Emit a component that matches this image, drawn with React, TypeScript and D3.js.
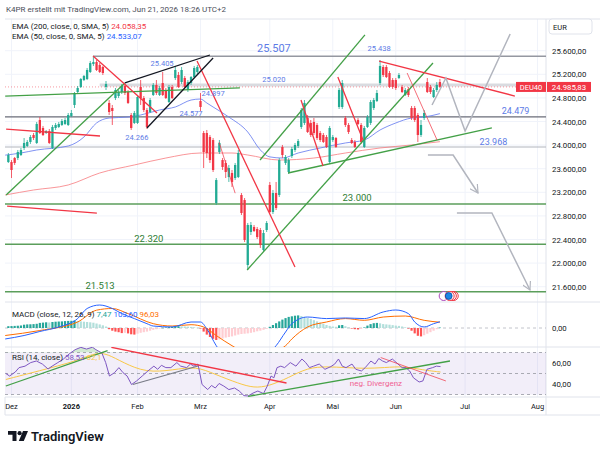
import * as d3 from 'd3';

// ---------- data ----------
const FIRST_BAR = -1; // bar 0 = 1 Dec 2025, one bar per trading day

// [open, high, low, close]
const candles: [number, number, number, number][] = [
  [23713, 23866, 23697, 23832], [23713, 23747, 23442, 23578], [23781, 23798, 23663, 23697], [23781, 23917, 23747, 23883],
  [23832, 23951, 23815, 23917], [23951, 24120, 23917, 24036], [23985, 24086, 23968, 24053], [24053, 24171, 24019, 24137],
  [24171, 24205, 24086, 24120], [24036, 24392, 24019, 24358], [24425, 24476, 24188, 24205], [24290, 24324, 24154, 24171],
  [24205, 24256, 24188, 24239], [24239, 24273, 24019, 24036], [23951, 24341, 23934, 24307], [24290, 24375, 24256, 24341],
  [24307, 24392, 24290, 24358], [24341, 24442, 24324, 24408], [24358, 24459, 24341, 24425], [24341, 24544, 24324, 24510],
  [24493, 24595, 24476, 24544], [24680, 24900, 24629, 24883], [24900, 25002, 24866, 24968], [24985, 25137, 24968, 25120],
  [25103, 25188, 25086, 25171], [25120, 25307, 25103, 25273], [25239, 25425, 25222, 25391], [25374, 25510, 25341, 25408],
  [25408, 25442, 25256, 25273], [25358, 25391, 25222, 25239], [25324, 25341, 25188, 25222], [24985, 25086, 24934, 25035],
  [24714, 24764, 24510, 24561], [24629, 24680, 24341, 24578], [24798, 24968, 24764, 24934], [24832, 24934, 24798, 24900],
  [24900, 25035, 24866, 25002], [25002, 25019, 24849, 24883], [24900, 24934, 24697, 24714], [24510, 24544, 24256, 24290],
  [24375, 24578, 24358, 24544], [24375, 24849, 24358, 24815], [24985, 25103, 24680, 24798], [24798, 24832, 24561, 24595],
  [24595, 24629, 24273, 24307], [24561, 24798, 24544, 24764], [24849, 25052, 24832, 25019], [25019, 25103, 24849, 24883],
  [24849, 25002, 24832, 24968], [25052, 25239, 24832, 24849], [24934, 24968, 24781, 24798], [24730, 25019, 24714, 24985],
  [24985, 25019, 24781, 24798], [25137, 25341, 25103, 25273], [25188, 25239, 24968, 24985], [25069, 25324, 25035, 25273],
  [25137, 25171, 24968, 24985], [24934, 25103, 24900, 25069], [25052, 25171, 25019, 25154], [25154, 25341, 25137, 25307],
  [25239, 25358, 25205, 25324], [24747, 24883, 24578, 24646], [24205, 24239, 23612, 23883], [24205, 24256, 23781, 23866],
  [24137, 24171, 23697, 23747], [24086, 24120, 23544, 23578], [23018, 23442, 22985, 23408], [23883, 24086, 23849, 24036],
  [23747, 23781, 23578, 23629], [23697, 23747, 23442, 23544], [23459, 23663, 23375, 23612], [23527, 23578, 23290, 23375],
  [23442, 23697, 23408, 23663], [23459, 23917, 23442, 23866], [23154, 23188, 22815, 22849], [23069, 23103, 22357, 22392],
  [21968, 22680, 21883, 22646], [22527, 22696, 22476, 22646], [22612, 22646, 22527, 22544], [22578, 22612, 22408, 22442],
  [22561, 22595, 22256, 22307], [22222, 22561, 22188, 22510], [22561, 22713, 22527, 22680], [23324, 23375, 22849, 22866],
  [22866, 23239, 22832, 23188], [23188, 23375, 22900, 22934], [23154, 23781, 23120, 23747], [23968, 24002, 23781, 23832],
  [23697, 23832, 23663, 23798], [23544, 23781, 23510, 23747], [23815, 23968, 23781, 23934], [23917, 24036, 23883, 24002],
  [23985, 24103, 23951, 24069], [24307, 24629, 24273, 24595], [24375, 24764, 24341, 24714], [24459, 24510, 24205, 24222],
  [24375, 24425, 24137, 24171], [24392, 24459, 24171, 24205], [24341, 24375, 24086, 24120], [24205, 24239, 24053, 24086],
  [24171, 24205, 24036, 24053], [24137, 24171, 23951, 23968], [23713, 24324, 23680, 24290], [24086, 24171, 24053, 24137],
  [24120, 24137, 23951, 23968], [24646, 24968, 24612, 24934], [24646, 25103, 24612, 25052], [24459, 24493, 24307, 24341],
  [24341, 24375, 24188, 24222], [24086, 24120, 24019, 24036], [24053, 24086, 23951, 23968], [24425, 24459, 24341, 24358],
  [24341, 24375, 24019, 24053], [23968, 24324, 23951, 24290], [24307, 24510, 24290, 24476], [24375, 24764, 24341, 24730],
  [24629, 24798, 24595, 24764], [24747, 24934, 24730, 24883], [25052, 25442, 25019, 25341], [25324, 25358, 25154, 25188],
  [25324, 25358, 25137, 25154], [25222, 25256, 24968, 24985], [25103, 25137, 24951, 24985], [25103, 25137, 24934, 24968],
  [25137, 25222, 25120, 25188], [24985, 25019, 24883, 24900], [24849, 24968, 24832, 24934], [24951, 24985, 24815, 24849],
  [24629, 24663, 24425, 24459], [24629, 24663, 24392, 24425], [24510, 24544, 24053, 24171], [24171, 24425, 24137, 24341],
  [24459, 24595, 24425, 24544], [25069, 25137, 24883, 24900], [24985, 25019, 24866, 24900], [24815, 24968, 24798, 24934],
  [24934, 25069, 24900, 25019], [25069, 25120, 24968, 24986],
];

// [bar, value]
const ema50: [number, number][] = [
  [-2, 23830], [3, 23866], [8, 23917], [18, 23985], [23, 24137], [27, 24375], [31, 24459], [37, 24476], [41, 24510],
  [47, 24595], [52, 24646], [57, 24764], [60, 24781], [62, 24714], [64, 24646], [69, 24476], [75, 24222], [79, 23917],
  [82, 23800], [86, 23781], [91, 23866], [98, 23951], [106, 24036], [112, 24086], [117, 24256], [122, 24375],
  [127, 24459], [131, 24476], [136, 24533],
];
const ema200: [number, number][] = [
  [-2, 23154], [7, 23239], [18, 23324], [28, 23527], [39, 23663], [49, 23781], [60, 23866], [70, 23866], [75, 23832],
  [85, 23747], [96, 23781], [106, 23866], [117, 23951], [127, 24002], [136, 24058],
];

const macdHist: number[] = [
  30, 32, 35, 38, 42, 55, 60, 62, 65, 70,
  85, 90, 95, 92, 100, 105, 108, 110, 115, 118,
  120, 125, 118, 110, 105, 100, 95, 88, 75, 60,
  45, 25, -20, -45, -60, -70, -85, -80, -90, -105,
  -110, -95, -80, -70, -60, -45, -30, -20, -10, 5,
  10, 15, 20, 25, 30, 28, 25, 22, 18, 12,
  5, -10, -60, -110, -150, -180, -200, -190, -175, -160,
  -150, -140, -125, -110, -100, -95, -90, -80, -70, -55,
  -45, -30, -15, 20, 50, 80, 110, 140, 165, 185,
  195, 205, 210, 200, 185, 170, 150, 130, 110, 90,
  70, 50, 35, 25, 20, 45, 50, 30, 10, -10,
  -20, -25, -15, 10, 40, 65, 80, 85, 78, 65,
  60, 55, 48, 40, 35, 25, 12, -10, -45, -90,
  -130, -140, -120, -95, -70, -45, -20, 7,
];
const macdLine: [number, number][] = [
  [-2, -183], [4, -125], [9, -58], [15, 17], [21, 157], [24, 325], [28, 383], [32, 325], [35, 240], [39, 157],
  [43, 72], [45, 33], [51, 17], [57, 100], [60, 100], [62, -13], [65, -295], [70, -560], [75, -620], [80, -480],
  [84, -295], [87, -67], [89, 72], [94, 183], [100, 157], [106, 167], [112, 157], [118, 267], [122, 300],
  [126, 240], [128, 100], [131, 17], [134, 72], [136, 104],
];
const signalLine: [number, number][] = [
  [-2, -125], [9, -42], [21, 100], [27, 297], [32, 325], [37, 240], [45, 72], [51, 33], [57, 55], [61, 17],
  [65, -125], [70, -295], [75, -420], [81, -420], [87, -295], [89, -183], [94, 17], [100, 100], [106, 157],
  [112, 128], [118, 183], [125, 200], [131, 128], [136, 96],
];

const rsiLine: [number, number][] = [
  [-1.8, 50], [-0.6, 47.6], [1.2, 51.4], [2.4, 55.6], [4.3, 57], [6.1, 60.4], [7.9, 61.9], [9.8, 59], [11.6, 54.3],
  [12.9, 57], [14.7, 60.4], [16.5, 63.8], [18.3, 68.6], [20.2, 72.7], [22, 74.9], [23.8, 73.3], [25.7, 75],
  [26.8, 72.7], [28.7, 69.5], [29.9, 60.4], [31.1, 47.6], [32.7, 50.8], [34.1, 55.6], [35.4, 50.8], [36.7, 47.6],
  [38.1, 39.5], [39.7, 42.9], [41.5, 47.6], [43.3, 52.4], [45.2, 57], [46.4, 54], [47.6, 57.8], [49, 55.6],
  [50.6, 55.6], [52.5, 60.4], [53.7, 57], [55.6, 55.6], [56.8, 59], [57.9, 57], [59.2, 59], [60.5, 39.5],
  [62.3, 34.7], [63.5, 38.6], [64.7, 36.2], [65.9, 40.5], [67.4, 38], [69, 34.7], [70.8, 36.2], [72.3, 33.3],
  [73.8, 28.9], [75.1, 28.6], [76.7, 31.4], [78.2, 33.3], [80, 30.9], [81.2, 38], [82.4, 47.6], [83.3, 45.9],
  [84.3, 55.6], [85.5, 57], [86.7, 55.6], [88.5, 60.4], [90.3, 57], [92.2, 63.8], [93.4, 60.4], [94.6, 55.6],
  [95.9, 57], [97.7, 59], [99.5, 54], [101.4, 56.6], [102.6, 59], [103.8, 63.8], [105, 57], [106.2, 55.6],
  [108.1, 59], [109.3, 54], [111.1, 52.4], [112.3, 55.6], [114.1, 61.9], [115.4, 59], [116.6, 64.3], [117.8, 61.9],
  [119, 60.4], [120.9, 63.8], [122.7, 59], [124, 55.6], [125.2, 55.6], [126.4, 52.4], [127.6, 45.9], [129.4, 41.9],
  [130.6, 42.9], [131.9, 54], [133.7, 55.6], [134.9, 57], [136.2, 56.6],
];
const rsiMa: [number, number][] = [
  [-1.8, 44.3], [8.6, 52.4], [20.8, 61.9], [26.8, 70.1], [30.5, 68.6], [35.4, 60.4], [42.7, 50.8], [51.3, 53.3],
  [58.6, 57], [64.7, 49.1], [72.1, 40.5], [77, 36.2], [81.7, 38], [87.9, 45.9], [94, 55.6], [100.2, 56.6],
  [106.2, 55.6], [112.3, 54.7], [118.4, 55.6], [124.6, 57], [130.6, 53.3], [136.2, 51.4],
];

const monthTicks: [string, number][] = [
  ['Dez', 0], ['2026', 19], ['Feb', 40], ['Mrz', 60], ['Apr', 82], ['Mai', 102], ['Jun', 122], ['Jul', 144], ['Aug', 167],
];
const priceTicks = [25600, 25200, 24800, 24400, 24000, 23600, 23200, 22800, 22400, 22000, 21600];
const rsiTicks = [60, 40];

// horizontal levels: [price, first bar]
const midLevels: [number, number][] = [[25507, 25.9]];
const darkLevels: [number, number][] = [[24479, -3]];
const lightLevels: [number, number][] = [[23968, -3]];
const bandLevels: [number, number][] = [[25020, 28]];
const greenLevels = [23000, 22320, 21513];

// trend lines: [bar1, price1, bar2, price2]
const greenTrends: [number, number, number, number][] = [
  [-2, 24830, 72.5, 24970], [-1.7, 23154, 36, 25053], [74.8, 21883, 133.8, 25392],
  [78.9, 23748, 112.2, 25867], [87.8, 23527, 152.5, 24290],
];
const redTrends: [number, number, number, number][] = [
  [-1.7, 24271, 28.1, 24154], [-1.4, 22966, 27.1, 22847], [25.9, 25510, 46.2, 24544], [58.9, 25425, 90, 21933],
  [91.9, 24764, 98.9, 23646], [103.6, 25154, 111.6, 24086], [116.7, 25425, 159.8, 24832],
];
const thinRedTrends: [number, number, number, number][] = [
  [65.9, 24049, 71, 23185], [125.6, 25222, 135.1, 24086],
];
const blackTrends: [number, number, number, number][] = [
  [36, 25053, 63, 25527], [43, 24290, 64, 25476],
];
const greyZigzag: [number, number][] = [[133.5, 24680], [137.9, 25137], [144, 24237], [158.3, 25883]];
const greyArrows: [number, number][][] = [
  [[132.2, 23832], [140.2, 23832], [148.1, 23188]],
  [[141.4, 22849], [152.5, 22849], [164.6, 21544]],
];

// price notes: [value, bar, baseline price, font size]
const blueNotes: [number, number, number, number][] = [
  [25507, 83.3, 25577, 11], [25438, 116.7, 25600, 7.5], [25405, 47.8, 25341, 7.5], [25020, 83.3, 25069, 7.5],
  [24897, 64, 24832, 7.5], [24577, 57, 24493, 7.5], [24266, 39.8, 24086, 7.5], [24479, 160, 24527, 9],
  [23968, 153, 24002, 9],
];
const greenNotes: [number, number, number][] = [[23000, 109.7, 23053], [22320, 43.6, 22359], [21513, 28.1, 21561]];

// RSI drawings: [bar1, rsi1, bar2, rsi2]
const rsiGreen: [number, number, number, number][] = [[-1.8, 38.1, 30.5, 71.7], [75.1, 28.2, 139.2, 61.9]];
const rsiRed: [number, number, number, number][] = [[31.7, 74.9, 87.3, 41]];
const rsiThinRed: [number, number, number, number][] = [[117.2, 65.2, 137.9, 42.9]];
const rsiGrey: [number, number, number, number][] = [[38.5, 39.5, 59.2, 57.1]];

const LAST_PRICE = 24985.83;

// ---------- layout ----------
const W = 600;
const H = 449;
const L = 5;
const R = 546;
const MAIN = { top: 19, bottom: 302 };
const MACDP = { top: 302, bottom: 347 };
const RSIP = { top: 347, bottom: 397 };
const AXIS_BOTTOM = 415;
const FONT = "Roboto, 'Noto Sans', sans-serif";

const UP = '#22ab94';
const DOWN = '#f23645';
const GREEN = '#43a047';
const RED = '#f23645';
const BLUE_NOTE = '#5d7be6';

const de = d3.formatLocale({ decimal: ',', thousands: '.', grouping: [3], currency: ['', ''] });
const fmt2 = de.format(',.2f');
const fmt0 = de.format(',.0f');

const x = d3.scaleLinear().domain([0, 167]).range([11.5, 11.5 + 167 * 3.15]);
const y = d3.scaleLinear().domain([21600, 25600]).range([286.7, 50.7]);
const yMacd = d3.scaleLinear().domain([-100, 100]).range([334, 322]);
const yRsi = d3.scaleLinear().domain([30, 70]).range([394.5, 352.5]);

const priceLine = d3.line<[number, number]>().x((d) => x(d[0])).y((d) => y(d[1])).curve(d3.curveMonotoneX);
const straightPrice = d3.line<[number, number]>().x((d) => x(d[0])).y((d) => y(d[1]));
const macdPath = d3.line<[number, number]>().x((d) => x(d[0])).y((d) => yMacd(d[1])).curve(d3.curveMonotoneX);
const rsiPath = d3.line<[number, number]>().x((d) => x(d[0])).y((d) => yRsi(d[1]));
const rsiMaPath = d3.line<[number, number]>().x((d) => x(d[0])).y((d) => yRsi(d[1])).curve(d3.curveBasis);
const rsiOb = d3.area<[number, number]>().x((d) => x(d[0])).y0(yRsi(70)).y1((d) => yRsi(d[1]));

function histColor(v: number, prev: number) {
  if (v >= 0) return v >= prev ? '#26a69a' : '#b2dfdb';
  return v <= prev ? '#ff5252' : '#ffcdd2';
}

export default function App() {
  const lastY = y(LAST_PRICE);
  return (
    <svg width={W} height={H} style={{ position: 'fixed', left: 0, top: 0, background: '#fff' }} fontFamily={FONT}>
      <defs>
        <clipPath id="cMain"><rect x={L} y={MAIN.top} width={R - L} height={MAIN.bottom - MAIN.top} /></clipPath>
        <clipPath id="cMacd"><rect x={L} y={MACDP.top} width={R - L} height={MACDP.bottom - MACDP.top} /></clipPath>
        <clipPath id="cRsi"><rect x={L} y={RSIP.top} width={R - L} height={RSIP.bottom - RSIP.top} /></clipPath>
        <clipPath id="cOb"><rect x={L} y={RSIP.top} width={R - L} height={yRsi(70) - RSIP.top} /></clipPath>
        <marker id="arrow" viewBox="0 0 10 10" refX="9" refY="5" markerWidth="9" markerHeight="9" markerUnits="userSpaceOnUse" orient="auto">
          <path d="M0,0 L9,5 L0,10" fill="none" stroke="#b2b5be" strokeWidth={1.3} />
        </marker>
      </defs>

      {/* header */}
      <text x={6} y={12} fontSize={8} fill="#4a4e59">K4PR erstellt mit TradingView.com, Jun 21, 2026 18:26 UTC+2</text>

      {/* grid */}
      <g stroke="#f0f3fa" strokeWidth={1}>
        {monthTicks.map(([m, b]) => (
          <line key={m} x1={x(b)} x2={x(b)} y1={MAIN.top} y2={RSIP.bottom} />
        ))}
        {priceTicks.map((p) => (
          <line key={p} x1={L} x2={R} y1={y(p)} y2={y(p)} />
        ))}
      </g>

      {/* pane frames */}
      <g stroke="#e0e3eb" strokeWidth={1} fill="none">
        <line x1={L} x2={W} y1={MAIN.top} y2={MAIN.top} />
        <line x1={L} x2={W} y1={MAIN.bottom} y2={MAIN.bottom} />
        <line x1={L} x2={W} y1={MACDP.bottom} y2={MACDP.bottom} />
        <line x1={L} x2={W} y1={RSIP.bottom} y2={RSIP.bottom} />
        <line x1={L} x2={W} y1={AXIS_BOTTOM} y2={AXIS_BOTTOM} />
        <line x1={R} x2={R} y1={MAIN.top} y2={AXIS_BOTTOM} />
        <line x1={L} x2={L} y1={RSIP.bottom} y2={AXIS_BOTTOM} />
      </g>

      {/* ---------- main pane ---------- */}
      <g clipPath="url(#cMain)">
        {/* horizontal levels */}
        {bandLevels.map(([p, b]) => (
          <line key={p} x1={x(b)} x2={R} y1={y(p)} y2={y(p)} stroke="#d9dbe0" strokeWidth={3} />
        ))}
        {lightLevels.map(([p, b]) => (
          <line key={p} x1={x(b)} x2={R} y1={y(p)} y2={y(p)} stroke="#b2b5be" strokeWidth={1.2} />
        ))}
        {midLevels.map(([p, b]) => (
          <line key={p} x1={x(b)} x2={R} y1={y(p)} y2={y(p)} stroke="#9598a1" strokeWidth={1.4} />
        ))}
        {darkLevels.map(([p, b]) => (
          <line key={p} x1={x(b)} x2={R} y1={y(p)} y2={y(p)} stroke="#6a6d78" strokeWidth={1.4} />
        ))}
        {greenLevels.map((p) => (
          <line key={p} x1={L} x2={R} y1={y(p)} y2={y(p)} stroke="#5b9e5b" strokeWidth={1.5} />
        ))}
        <line x1={L} x2={R} y1={lastY} y2={lastY} stroke={RED} strokeWidth={1} strokeDasharray="1,2" opacity={0.5} />

        {/* moving averages */}
        <path d={priceLine(ema200) ?? ''} fill="none" stroke="#f77c80" strokeWidth={1} opacity={0.8} />
        <path d={priceLine(ema50) ?? ''} fill="none" stroke="#6a7ff0" strokeWidth={1} opacity={0.85} />

        {/* candles */}
        {candles.map(([o, h, l, c], i) => {
          const b = FIRST_BAR + i;
          const cx = x(b);
          const col = c >= o ? UP : DOWN;
          const top = y(Math.max(o, c));
          const bh = Math.max(1, y(Math.min(o, c)) - top);
          return (
            <g key={i}>
              <line x1={cx} x2={cx} y1={y(h)} y2={y(l)} stroke={col} strokeWidth={0.8} />
              <rect x={cx - 1.15} y={top} width={2.3} height={bh} fill={col} />
            </g>
          );
        })}

        {/* trend lines */}
        {greenTrends.map(([b1, p1, b2, p2], i) => (
          <line key={'g' + i} x1={x(b1)} y1={y(p1)} x2={x(b2)} y2={y(p2)} stroke={GREEN} strokeWidth={1.3} />
        ))}
        {redTrends.map(([b1, p1, b2, p2], i) => (
          <line key={'r' + i} x1={x(b1)} y1={y(p1)} x2={x(b2)} y2={y(p2)} stroke={RED} strokeWidth={1.3} />
        ))}
        {thinRedTrends.map(([b1, p1, b2, p2], i) => (
          <line key={'t' + i} x1={x(b1)} y1={y(p1)} x2={x(b2)} y2={y(p2)} stroke={RED} strokeWidth={0.9} opacity={0.8} />
        ))}
        {blackTrends.map(([b1, p1, b2, p2], i) => (
          <line key={'k' + i} x1={x(b1)} y1={y(p1)} x2={x(b2)} y2={y(p2)} stroke="#131722" strokeWidth={1.3} />
        ))}
        <path d={straightPrice(greyZigzag) ?? ''} fill="none" stroke="#b2b5be" strokeWidth={1.5} />
        {greyArrows.map((pts, i) => (
          <path key={i} d={straightPrice(pts) ?? ''} fill="none" stroke="#b2b5be" strokeWidth={1.5} markerEnd="url(#arrow)" />
        ))}

        {/* notes */}
        {blueNotes.map(([v, b, p, fs]) => (
          <text key={v} x={x(b)} y={y(p)} fontSize={fs} fill={BLUE_NOTE} textAnchor="middle">{fmt0(v)}</text>
        ))}
        {greenNotes.map(([v, b, p]) => (
          <text key={v} x={x(b)} y={y(p)} fontSize={9.5} fill="#2e7d32" textAnchor="middle">{fmt0(v)}</text>
        ))}

        {/* event markers */}
        <circle cx={x(137.2)} cy={MAIN.bottom - 6} r={4.5} fill="#fff" stroke="#ab47bc" strokeWidth={1} />
        <circle cx={x(139.8)} cy={MAIN.bottom - 6} r={4.5} fill="#fff" stroke="#f23645" strokeWidth={1} />
        <circle cx={x(140.4)} cy={MAIN.bottom - 6} r={4.5} fill="none" stroke="#f23645" strokeWidth={1} />
        <circle cx={x(139.1)} cy={MAIN.bottom - 6} r={4.5} fill="#fff" stroke="#f23645" strokeWidth={1} />
        <circle cx={x(138.8)} cy={MAIN.bottom - 6} r={3.4} fill="#1e88e5" stroke="#0d47a1" strokeWidth={0.8} />
      </g>

      {/* main legend */}
      <text x={12} y={29} fontSize={8} fill="#131722">
        EMA (200, close, 0, SMA, 5) <tspan fill="#f23645">{fmt2(24058.35)}</tspan>
      </text>
      <text x={12} y={39} fontSize={8} fill="#131722">
        EMA (50, close, 0, SMA, 5) <tspan fill="#2962ff">{fmt2(24533.07)}</tspan>
      </text>

      {/* ---------- MACD pane ---------- */}
      <g clipPath="url(#cMacd)">
        <line x1={L} x2={R} y1={yMacd(0)} y2={yMacd(0)} stroke="#b2b5be" strokeDasharray="3,3" strokeWidth={0.8} />
        {macdHist.map((v, i) => {
          const b = FIRST_BAR + i;
          const prev = i > 0 ? macdHist[i - 1] : v;
          const y0 = yMacd(0);
          const y1 = yMacd(v);
          return (
            <rect key={i} x={x(b) - 1.1} width={2.2} y={Math.min(y0, y1)} height={Math.max(0.5, Math.abs(y1 - y0))}
              fill={histColor(v, prev)} />
          );
        })}
        <path d={macdPath(signalLine) ?? ''} fill="none" stroke="#ff6d00" strokeWidth={1} />
        <path d={macdPath(macdLine) ?? ''} fill="none" stroke="#2962ff" strokeWidth={1} />
      </g>
      <text x={12} y={317} fontSize={8} fill="#131722">
        MACD (close, 12, 26, 9) <tspan fill="#26a69a">{fmt2(7.47)}</tspan> <tspan fill="#2962ff">{fmt2(103.6)}</tspan>{' '}
        <tspan fill="#ff6d00">{fmt2(96.03)}</tspan>
      </text>

      {/* ---------- RSI pane ---------- */}
      <g clipPath="url(#cRsi)">
        <rect x={L} y={yRsi(70)} width={R - L} height={yRsi(30) - yRsi(70)} fill="#7e57c2" opacity={0.1} />
        {[70, 50, 30].map((v) => (
          <line key={v} x1={L} x2={R} y1={yRsi(v)} y2={yRsi(v)} stroke="#9598a1" strokeDasharray="3,3" strokeWidth={0.8} />
        ))}
        <path d={rsiOb(rsiLine) ?? ''} fill="#66bb6a" opacity={0.3} clipPath="url(#cOb)" />
        <path d={rsiMaPath(rsiMa) ?? ''} fill="none" stroke="#f9c846" strokeWidth={1} />
        <path d={rsiPath(rsiLine) ?? ''} fill="none" stroke="#7e57c2" strokeWidth={1} />
        {rsiGreen.map(([b1, v1, b2, v2], i) => (
          <line key={'g' + i} x1={x(b1)} y1={yRsi(v1)} x2={x(b2)} y2={yRsi(v2)} stroke={GREEN} strokeWidth={1.3} />
        ))}
        {rsiRed.map(([b1, v1, b2, v2], i) => (
          <line key={'r' + i} x1={x(b1)} y1={yRsi(v1)} x2={x(b2)} y2={yRsi(v2)} stroke={RED} strokeWidth={1.4} />
        ))}
        {rsiThinRed.map(([b1, v1, b2, v2], i) => (
          <line key={'t' + i} x1={x(b1)} y1={yRsi(v1)} x2={x(b2)} y2={yRsi(v2)} stroke={RED} strokeWidth={0.9} opacity={0.8} />
        ))}
        {rsiGrey.map(([b1, v1, b2, v2], i) => (
          <line key={'k' + i} x1={x(b1)} y1={yRsi(v1)} x2={x(b2)} y2={yRsi(v2)} stroke="#787b86" strokeWidth={1.2} />
        ))}
        <text x={x(115.7)} y={yRsi(38.1)} fontSize={8} fill="#f06292" textAnchor="middle">neg. Divergenz</text>
      </g>
      <text x={12} y={360} fontSize={8} fill="#131722">
        RSI (14, close) <tspan fill="#7e57c2">{fmt2(58.53)}</tspan> <tspan fill="#f9c846">62,1</tspan>
      </text>

      {/* ---------- right axis ---------- */}
      <rect x={549} y={19} width={43} height={15} rx={3} fill="#fff" stroke="#e0e3eb" />
      <text x={553} y={29.5} fontSize={7.5} fill="#131722">EUR</text>
      {priceTicks.map((p) => (
        <text key={p} x={552} y={y(p) + 3} fontSize={7.8} fill="#131722">{fmt2(p)}</text>
      ))}
      <text x={552} y={yMacd(0) + 3} fontSize={7.8} fill="#131722">{fmt2(0)}</text>
      {rsiTicks.map((v) => (
        <text key={v} x={552} y={yRsi(v) + 3} fontSize={7.8} fill="#131722">{fmt2(v)}</text>
      ))}
      <rect x={516} y={lastY - 5} width={30} height={10} fill={RED} />
      <text x={531} y={lastY + 3} fontSize={7.5} fill="#fff" textAnchor="middle">DEU40</text>
      <rect x={547} y={lastY - 5} width={44} height={10} fill={RED} />
      <text x={569} y={lastY + 3} fontSize={7.8} fill="#fff" textAnchor="middle">{fmt2(LAST_PRICE)}</text>

      {/* ---------- time axis ---------- */}
      {monthTicks.map(([m, b]) => (
        <text key={m} x={x(b)} y={409} fontSize={7.5} fill="#131722" textAnchor="middle" fontWeight={m === '2026' ? 700 : 400}>
          {m}
        </text>
      ))}

      {/* logo */}
      <g fill="#131722">
        <path d="M8,431 h8.5 v10 h-4 v-6.2 h-4.5 z" />
        <circle cx={19.6} cy={433.2} r={2.1} />
        <path d="M23,431 h5 l-4.2,10 h-5 z" />
      </g>
      <text x={31} y={440.5} fontSize={13} fontWeight={600} fill="#131722">TradingView</text>
    </svg>
  );
}
